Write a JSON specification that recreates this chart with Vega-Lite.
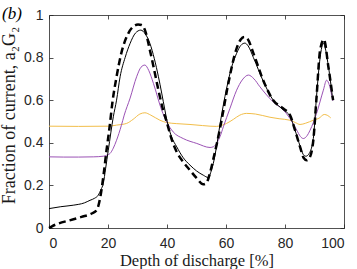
{
  "$schema": "https://vega.github.io/schema/vega-lite/v6.json",
  "autosize": "none",
  "width": 295,
  "height": 213,
  "padding": {"left": 49, "top": 15, "right": 13, "bottom": 41},
  "background": "white",
  "title": {"text": "(b)", "anchor": "start", "frame": "group", "dx": -47, "dy": 32, "offset": 0, "baseline": "bottom", "font": "Liberation Serif", "fontSize": 17, "fontStyle": "italic", "fontWeight": "normal", "color": "#000000"},
  "config": {
    "view": {"stroke": null},
    "axis": {"grid": false, "domainColor": "#262626", "tickColor": "#262626", "labelColor": "#262626", "titleColor": "#1a1a1a", "labelFont": "Liberation Sans", "labelFontSize": 14, "titleFont": "Liberation Serif", "titleFontSize": 16.5, "titleFontWeight": "normal", "tickSize": -4, "domainWidth": 0.8, "tickWidth": 0.8}
  },
  "datasets": {
    "curves": [
      {"s":"d","x":0,"y":0.0},{"s":"d","x":1,"y":0.008},{"s":"d","x":3,"y":0.02},{"s":"d","x":7,"y":0.036},{"s":"d","x":11,"y":0.052},{"s":"d","x":14.5,"y":0.068},{"s":"d","x":16.2,"y":0.085},{"s":"d","x":17.3,"y":0.138},{"s":"d","x":18.5,"y":0.25},{"s":"d","x":19.5,"y":0.365},{"s":"d","x":20.5,"y":0.47},{"s":"d","x":21.5,"y":0.59},{"s":"d","x":22.9,"y":0.71},{"s":"d","x":24.5,"y":0.82},{"s":"d","x":26.9,"y":0.914},{"s":"d","x":28.5,"y":0.945},{"s":"d","x":30.2,"y":0.955},{"s":"d","x":31.4,"y":0.953},{"s":"d","x":32.5,"y":0.93},{"s":"d","x":34.2,"y":0.835},{"s":"d","x":36,"y":0.72},{"s":"d","x":37.1,"y":0.647},{"s":"d","x":38.7,"y":0.553},{"s":"d","x":39.9,"y":0.498},{"s":"d","x":41.5,"y":0.42},{"s":"d","x":43.3,"y":0.357},{"s":"d","x":45.5,"y":0.31},{"s":"d","x":47.8,"y":0.271},{"s":"d","x":50,"y":0.235},{"s":"d","x":52.3,"y":0.205},{"s":"d","x":53.3,"y":0.21},{"s":"d","x":54.6,"y":0.26},{"s":"d","x":55.8,"y":0.33},{"s":"d","x":56.8,"y":0.39},{"s":"d","x":58.5,"y":0.506},{"s":"d","x":60.8,"y":0.68},{"s":"d","x":63.6,"y":0.843},{"s":"d","x":65,"y":0.885},{"s":"d","x":66.2,"y":0.897},{"s":"d","x":67.2,"y":0.89},{"s":"d","x":69.3,"y":0.82},{"s":"d","x":72.6,"y":0.694},{"s":"d","x":76,"y":0.6},{"s":"d","x":79.4,"y":0.561},{"s":"d","x":81.7,"y":0.53},{"s":"d","x":83.4,"y":0.459},{"s":"d","x":85.1,"y":0.381},{"s":"d","x":86.3,"y":0.33},{"s":"d","x":87.4,"y":0.318},{"s":"d","x":88.5,"y":0.335},{"s":"d","x":89.6,"y":0.412},{"s":"d","x":90.7,"y":0.616},{"s":"d","x":91.9,"y":0.835},{"s":"d","x":93.2,"y":0.885},{"s":"d","x":94.7,"y":0.757},{"s":"d","x":96.3,"y":0.6},
      {"s":"k","x":0,"y":0.091},{"s":"k","x":4,"y":0.1},{"s":"k","x":8.2,"y":0.107},{"s":"k","x":12,"y":0.118},{"s":"k","x":13.9,"y":0.13},{"s":"k","x":15.5,"y":0.14},{"s":"k","x":16.7,"y":0.154},{"s":"k","x":17.6,"y":0.18},{"s":"k","x":18.4,"y":0.209},{"s":"k","x":19.2,"y":0.28},{"s":"k","x":20.1,"y":0.365},{"s":"k","x":21.8,"y":0.522},{"s":"k","x":22.9,"y":0.6},{"s":"k","x":24.1,"y":0.71},{"s":"k","x":25.8,"y":0.8},{"s":"k","x":27.5,"y":0.867},{"s":"k","x":29.3,"y":0.915},{"s":"k","x":31.1,"y":0.929},{"s":"k","x":32.7,"y":0.91},{"s":"k","x":34.2,"y":0.867},{"s":"k","x":35.7,"y":0.795},{"s":"k","x":37.1,"y":0.71},{"s":"k","x":39.3,"y":0.553},{"s":"k","x":39.9,"y":0.51},{"s":"k","x":41.5,"y":0.43},{"s":"k","x":43.3,"y":0.381},{"s":"k","x":45.5,"y":0.33},{"s":"k","x":47.8,"y":0.295},{"s":"k","x":50,"y":0.268},{"s":"k","x":52.3,"y":0.248},{"s":"k","x":54,"y":0.237},{"s":"k","x":54.8,"y":0.26},{"s":"k","x":55.7,"y":0.303},{"s":"k","x":57,"y":0.4},{"s":"k","x":58,"y":0.49},{"s":"k","x":60.2,"y":0.655},{"s":"k","x":61.8,"y":0.75},{"s":"k","x":63.6,"y":0.82},{"s":"k","x":65,"y":0.857},{"s":"k","x":66.4,"y":0.868},{"s":"k","x":67.5,"y":0.855},{"s":"k","x":69.3,"y":0.8},{"s":"k","x":72.6,"y":0.69},{"s":"k","x":76,"y":0.6},{"s":"k","x":79.4,"y":0.555},{"s":"k","x":81.7,"y":0.525},{"s":"k","x":83.4,"y":0.46},{"s":"k","x":85.1,"y":0.385},{"s":"k","x":86.2,"y":0.345},{"s":"k","x":87.1,"y":0.337},{"s":"k","x":88.2,"y":0.35},{"s":"k","x":89.6,"y":0.42},{"s":"k","x":90.7,"y":0.62},{"s":"k","x":91.9,"y":0.8},{"s":"k","x":93,"y":0.867},{"s":"k","x":94.7,"y":0.76},{"s":"k","x":96.2,"y":0.6},
      {"s":"p","x":0,"y":0.334},{"s":"p","x":5,"y":0.333},{"s":"p","x":10,"y":0.333},{"s":"p","x":15,"y":0.334},{"s":"p","x":18.4,"y":0.337},{"s":"p","x":19.6,"y":0.342},{"s":"p","x":20.7,"y":0.35},{"s":"p","x":21.8,"y":0.375},{"s":"p","x":22.9,"y":0.412},{"s":"p","x":24.5,"y":0.48},{"s":"p","x":25.5,"y":0.53},{"s":"p","x":27.5,"y":0.61},{"s":"p","x":29.7,"y":0.71},{"s":"p","x":31.2,"y":0.755},{"s":"p","x":32.5,"y":0.765},{"s":"p","x":33.8,"y":0.74},{"s":"p","x":35.4,"y":0.679},{"s":"p","x":38.2,"y":0.553},{"s":"p","x":39.9,"y":0.498},{"s":"p","x":42.1,"y":0.451},{"s":"p","x":45.5,"y":0.42},{"s":"p","x":50.1,"y":0.397},{"s":"p","x":54.6,"y":0.378},{"s":"p","x":55.8,"y":0.382},{"s":"p","x":56.8,"y":0.397},{"s":"p","x":58,"y":0.43},{"s":"p","x":59.1,"y":0.475},{"s":"p","x":61.3,"y":0.56},{"s":"p","x":63.6,"y":0.647},{"s":"p","x":65.5,"y":0.695},{"s":"p","x":67.6,"y":0.718},{"s":"p","x":69.5,"y":0.7},{"s":"p","x":71.5,"y":0.663},{"s":"p","x":76,"y":0.592},{"s":"p","x":79.4,"y":0.555},{"s":"p","x":81.7,"y":0.514},{"s":"p","x":84,"y":0.459},{"s":"p","x":85.2,"y":0.43},{"s":"p","x":86.2,"y":0.42},{"s":"p","x":87.3,"y":0.43},{"s":"p","x":88.5,"y":0.459},{"s":"p","x":90.7,"y":0.538},{"s":"p","x":93,"y":0.647},{"s":"p","x":94.1,"y":0.694},{"s":"p","x":94.8,"y":0.68},{"s":"p","x":96.2,"y":0.597},
      {"s":"o","x":0,"y":0.478},{"s":"o","x":10,"y":0.477},{"s":"o","x":20,"y":0.478},{"s":"o","x":22.9,"y":0.483},{"s":"o","x":26.3,"y":0.491},{"s":"o","x":28.5,"y":0.51},{"s":"o","x":30.8,"y":0.535},{"s":"o","x":32.5,"y":0.541},{"s":"o","x":34.5,"y":0.53},{"s":"o","x":37.6,"y":0.506},{"s":"o","x":39.9,"y":0.495},{"s":"o","x":43.3,"y":0.49},{"s":"o","x":47.8,"y":0.486},{"s":"o","x":52,"y":0.481},{"s":"o","x":54.6,"y":0.478},{"s":"o","x":56.8,"y":0.477},{"s":"o","x":58.5,"y":0.482},{"s":"o","x":60.2,"y":0.491},{"s":"o","x":62.5,"y":0.51},{"s":"o","x":64.7,"y":0.53},{"s":"o","x":67,"y":0.538},{"s":"o","x":70,"y":0.535},{"s":"o","x":74.9,"y":0.52},{"s":"o","x":78,"y":0.513},{"s":"o","x":81.7,"y":0.506},{"s":"o","x":83.5,"y":0.495},{"s":"o","x":85.1,"y":0.486},{"s":"o","x":87,"y":0.492},{"s":"o","x":89.6,"y":0.506},{"s":"o","x":91.5,"y":0.515},{"s":"o","x":93.3,"y":0.533},{"s":"o","x":94.5,"y":0.528},{"s":"o","x":95.5,"y":0.517}
    ]
  },
  "data": {"name": "curves"},
  "resolve": {"axis": {"x": "independent", "y": "independent"}},
  "layer": [
    {
      "transform": [{"filter": "datum.s === 'o'"}],
      "mark": {"type": "line", "stroke": "#F2BE4A", "strokeWidth": 1, "interpolate": "monotone"},
      "encoding": {
        "x": {"field": "x", "type": "quantitative", "scale": {"domain": [0, 100], "nice": false}, "axis": {"title": "Depth of discharge [%]", "values": [0, 20, 40, 60, 80, 100], "format": "d", "labelPadding": 12, "titlePadding": 2}},
        "y": {"field": "y", "type": "quantitative", "scale": {"domain": [0, 1], "nice": false}, "axis": {"title": "Fraction of current, a₂G₂", "values": [0, 0.2, 0.4, 0.6, 0.8, 1], "format": "~g", "labelPadding": 10, "titlePadding": 5, "titleFontSize": 18, "titleY": 100}}
      }
    },
    {
      "transform": [{"filter": "datum.s === 'p'"}],
      "mark": {"type": "line", "stroke": "#9B52B5", "strokeWidth": 1, "interpolate": "monotone"},
      "encoding": {
        "x": {"field": "x", "type": "quantitative", "axis": null},
        "y": {"field": "y", "type": "quantitative", "axis": null}
      }
    },
    {
      "transform": [{"filter": "datum.s === 'k'"}],
      "mark": {"type": "line", "stroke": "#000000", "strokeWidth": 1, "interpolate": "monotone"},
      "encoding": {
        "x": {"field": "x", "type": "quantitative", "axis": null},
        "y": {"field": "y", "type": "quantitative", "axis": null}
      }
    },
    {
      "transform": [{"filter": "datum.s === 'd'"}],
      "mark": {"type": "line", "stroke": "#000000", "strokeWidth": 2.5, "strokeDash": [7, 4], "interpolate": "monotone"},
      "encoding": {
        "x": {"field": "x", "type": "quantitative", "axis": null},
        "y": {"field": "y", "type": "quantitative", "axis": null}
      }
    },
    {
      "transform": [{"filter": "datum.s === 'o'"}],
      "mark": {"type": "point", "opacity": 0},
      "encoding": {
        "x": {"field": "x", "type": "quantitative", "axis": {"orient": "top", "title": null, "labels": false, "values": [0, 20, 40, 60, 80, 100]}},
        "y": {"field": "y", "type": "quantitative", "axis": {"orient": "right", "title": null, "labels": false, "values": [0, 0.2, 0.4, 0.6, 0.8, 1]}}
      }
    }
  ]
}
